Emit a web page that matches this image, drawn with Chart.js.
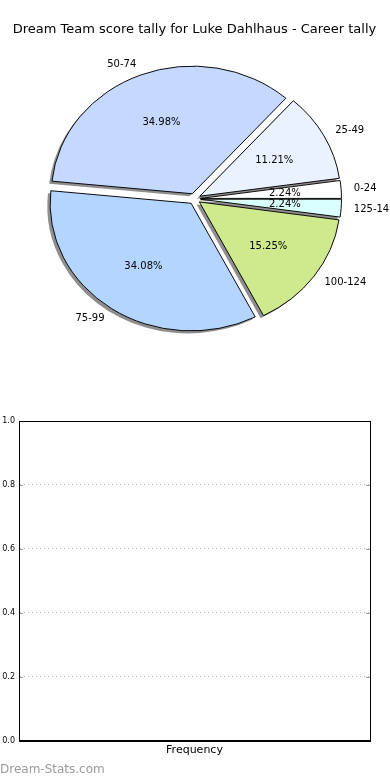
<!DOCTYPE html>
<html>
<head>
<meta charset="utf-8">
<title>Dream Team score tally</title>
<script src="https://cdn.jsdelivr.net/npm/chart.js@4.4.1/dist/chart.umd.min.js"></script>
<style>
  html, body { margin: 0; padding: 0; background: #fff; }
  body { width: 390px; height: 780px; position: relative; overflow: hidden; }
  #pieWrap { position: absolute; left: 0; top: 0; width: 390px; height: 400px; }
  #barWrap { position: absolute; left: 0; top: 400px; width: 390px; height: 380px; }
  .watermark {
    position: absolute; left: 0; top: 762px;
    font: 12px "DejaVu Sans", sans-serif; color: #9a9a9a;
  }
</style>
</head>
<body>
<div id="pieWrap"><canvas id="pieChart" width="390" height="400"></canvas></div>
<div id="barWrap"><canvas id="barChart" width="390" height="380"></canvas></div>
<div class="watermark">Dream-Stats.com</div>

<script>
// Score bands and how many games fell in each (career tally)
const scoreBands = ['0-24', '25-49', '50-74', '75-99', '100-124', '125-149'];
const bandCounts = [5, 25, 78, 76, 34, 5];
const bandColors = ['#ffffff', '#eaf1ff', '#c5d9ff', '#b4d5ff', '#cfea8c', '#d9ffff'];

// Lower panel - frequency bars (empty in the source)
const freqLabels = ['Frequency'];
const freqValues = [];
const freqTicks = [0, 0.2, 0.4, 0.6, 0.8, 1.0];

const chartTitle = 'Dream Team score tally for Luke Dahlhaus - Career tally';

// pie look
const PIE_RADIUS = 141;
const EXPLODE = 6;        // px each wedge is pushed out
const Y_SQUASH = 0.905;   // source pie is slightly elliptical
const LABEL_DIST = 1.09;
const PCT_DIST = 0.6;
const FONT = '"DejaVu Sans", Verdana, sans-serif';

Chart.defaults.font.family = FONT;
Chart.defaults.color = '#000';

// matplotlib walks counter-clockwise from 3 o'clock, Chart.js clockwise -> feed reversed
const pieLabels = scoreBands.slice().reverse();
const pieValues = bandCounts.slice().reverse();
const pieColors = bandColors.slice().reverse();
const total = bandCounts.reduce((a, b) => a + b, 0);

// Draws wedges exploded, with a drop shadow, then the labels
const explodedPie = {
    id: 'explodedPie',
    beforeDatasetDraw(chart, args) {
        const ctx = chart.ctx;
        const arcs = args.meta.data;
        if (!arcs.length) return;
        const cx = arcs[0].x, cy = arcs[0].y;

        ctx.save();
        ctx.translate(cx, cy);
        ctx.scale(1, Y_SQUASH);
        ctx.translate(-cx, -cy);

        // shadows under everything
        ctx.fillStyle = 'rgba(30, 30, 30, 0.5)';
        arcs.forEach(arc => {
            const mid = (arc.startAngle + arc.endAngle) / 2;
            const ox = cx + Math.cos(mid) * EXPLODE - 2.8;
            const oy = cy + Math.sin(mid) * EXPLODE + 2.8;
            ctx.beginPath();
            ctx.moveTo(ox, oy);
            ctx.arc(ox, oy, arc.outerRadius, arc.startAngle, arc.endAngle);
            ctx.closePath();
            ctx.fill();
        });

        arcs.forEach(arc => {
            const mid = (arc.startAngle + arc.endAngle) / 2;
            ctx.save();
            ctx.translate(Math.cos(mid) * EXPLODE, Math.sin(mid) * EXPLODE);
            arc.draw(ctx);
            ctx.restore();
        });
        ctx.restore();
        return false;
    },
    afterDatasetsDraw(chart) {
        const ctx = chart.ctx;
        const arcs = chart.getDatasetMeta(0).data;
        if (!arcs.length) return;
        const cx = arcs[0].x, cy = arcs[0].y;

        ctx.save();
        ctx.font = '10px ' + FONT;
        ctx.fillStyle = '#000';
        ctx.textBaseline = 'middle';
        arcs.forEach((arc, i) => {
            const mid = (arc.startAngle + arc.endAngle) / 2;
            const r = arc.outerRadius;
            const cos = Math.cos(mid), sin = Math.sin(mid);

            // percentage inside
            const pct = (pieValues[i] / total * 100).toFixed(2) + '%';
            const pr = EXPLODE + PCT_DIST * r;
            ctx.textAlign = 'center';
            ctx.fillText(pct, cx + cos * pr, cy + sin * pr * Y_SQUASH);

            // band name outside
            const lr = EXPLODE + LABEL_DIST * r;
            ctx.textAlign = cos > 0 ? 'left' : 'right';
            ctx.fillText(pieLabels[i], cx + cos * lr, cy + sin * lr * Y_SQUASH);
        });
        ctx.restore();
    }
};

new Chart(document.getElementById('pieChart'), {
    type: 'pie',
    data: {
        labels: pieLabels,
        datasets: [{
            data: pieValues,
            backgroundColor: pieColors,
            borderColor: '#000',
            borderWidth: 1,
            hoverOffset: 0,
            clip: false
        }]
    },
    options: {
        responsive: false,
        animation: false,
        events: [],
        rotation: 90,
        radius: PIE_RADIUS,
        layout: { padding: { top: 0, right: 1, bottom: 50, left: 0 } },
        plugins: {
            legend: { display: false },
            tooltip: { enabled: false },
            title: {
                display: true,
                text: chartTitle,
                color: '#000',
                font: { size: 13, weight: 'normal', family: FONT },
                padding: { top: 22, bottom: 10 }
            }
        }
    },
    plugins: [explodedPie]
});

// box round the plot + little inside ticks like matplotlib
const frameBox = {
    id: 'frameBox',
    afterDraw(chart) {
        const { ctx, chartArea: a } = chart;
        const y = chart.scales.y;
        ctx.save();
        ctx.strokeStyle = '#9a9a9a';
        ctx.lineWidth = 1;
        freqTicks.forEach(t => {
            const py = Math.round(y.getPixelForValue(t)) + 0.5;
            ctx.beginPath();
            ctx.moveTo(a.left, py); ctx.lineTo(a.left + 4, py);
            ctx.moveTo(a.right - 4, py); ctx.lineTo(a.right, py);
            ctx.stroke();
        });
        ctx.strokeStyle = '#000';
        const l = Math.round(a.left) + 0.5, t = Math.round(a.top) + 0.5;
        const r = Math.round(a.right) + 0.5, b = Math.round(a.bottom) + 0.5;
        ctx.strokeRect(l, t, r - l, b - t);
        ctx.restore();
    }
};

new Chart(document.getElementById('barChart'), {
    type: 'bar',
    data: {
        labels: freqLabels,
        datasets: [{
            label: 'Frequency',
            data: freqValues,
            backgroundColor: '#b4d5ff'
        }]
    },
    options: {
        responsive: false,
        animation: false,
        events: [],
        layout: { padding: { top: 21, right: 20, bottom: 0, left: 0 } },
        plugins: {
            legend: { display: false },
            tooltip: { enabled: false }
        },
        scales: {
            x: {
                grid: { display: false, drawTicks: false },
                border: { display: true, color: '#000' },
                ticks: { color: '#000', font: { size: 11 }, padding: 3 },
                afterFit(scale) { scale.height = 39.5; }
            },
            y: {
                min: 0,
                max: 1,
                afterBuildTicks(scale) { scale.ticks = freqTicks.map(v => ({ value: v })); },
                ticks: {
                    color: '#000',
                    font: { size: 8 },
                    padding: 4,
                    callback: v => v.toFixed(1)
                },
                grid: { color: '#bdbdbd', drawTicks: false },
                border: { display: true, color: '#000', dash: [1, 3] },
                afterFit(scale) { scale.width = 19; }
            }
        }
    },
    plugins: [frameBox]
});
</script>
</body>
</html>
